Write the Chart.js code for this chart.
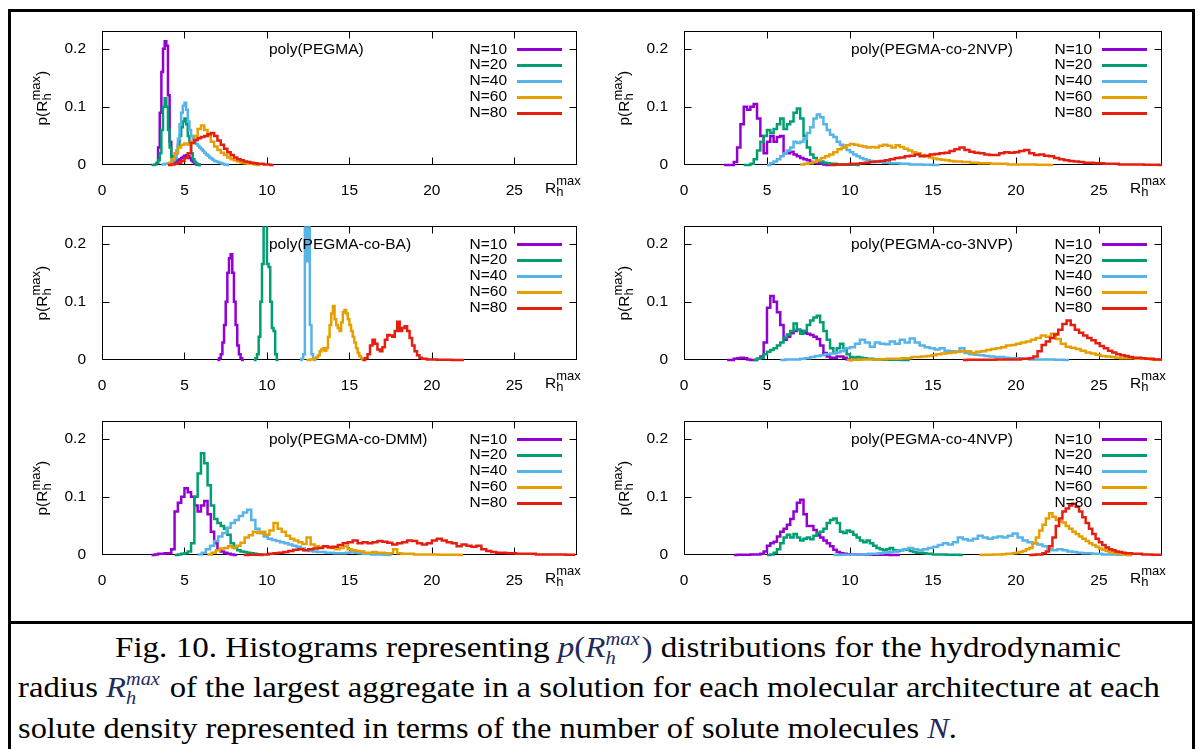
<!DOCTYPE html>
<html>
<head>
<meta charset="utf-8">
<script src="https://cdn.jsdelivr.net/npm/chart.js@4.4.0/dist/chart.umd.min.js"></script>
<style>
  body { margin: 0; background: #fff; }
  #page { position: relative; width: 1198px; height: 749px; overflow: hidden; background: #fff; }
  .frame { position: absolute; left: 8px; top: 9px; width: 1181px; height: 800px; border: 3px solid #000; }
  .sep { position: absolute; left: 8px; top: 621px; width: 1187px; height: 3px; background: #000; }
  canvas.panel { position: absolute; }
  .cap { position: absolute; white-space: nowrap; font-family: "Liberation Serif", "Times New Roman", serif;
         font-size: 29px; line-height: 29px; color: #000; transform-origin: 0 0; }
  .m { color: #1f2a5c; }
  .ss { display: inline-block; position: relative; width: 1.75em; height: 0; font-size: 0.62em; }
  .sp { position: absolute; left: 0; bottom: 0.5em; line-height: 1; }
  .sb { position: absolute; left: 0; top: -0.42em; line-height: 1; }
</style>
</head>
<body>
<div id="page">
  <div class="frame"></div>
  <div class="sep"></div>
  <canvas class="panel" id="p0" width="590" height="195"></canvas>
  <canvas class="panel" id="p1" width="590" height="195"></canvas>
  <canvas class="panel" id="p2" width="590" height="195"></canvas>
  <canvas class="panel" id="p3" width="590" height="195"></canvas>
  <canvas class="panel" id="p4" width="590" height="195"></canvas>
  <canvas class="panel" id="p5" width="590" height="195"></canvas>
  <div class="cap" id="c1" style="left:115px;top:633px">Fig. 10. Histograms representing <span class="m"><i>p</i>(<i>R</i><span class="ss"><i class="sp">max</i><i class="sb">h</i></span>)</span> distributions for the hydrodynamic</div>
  <div class="cap" id="c2" style="left:18px;top:673px">radius <span class="m"><i>R</i><span class="ss"><i class="sp">max</i><i class="sb">h</i></span></span> of the largest aggregate in a solution for each molecular architecture at each</div>
  <div class="cap" id="c3" style="left:18px;top:714px">solute density represented in terms of the number of solute molecules <span class="m"><i>N</i></span>.</div>
</div>
<script>
/* p(Rh max) histograms, six architectures, N = 10..80 */
const X_TICKS = [0, 5, 10, 15, 20, 25];
const Y_TICKS = [0, 0.1, 0.2];
const X_MAX = 28.8, Y_MAX = 0.23;
const N_LABELS = ['N=10', 'N=20', 'N=40', 'N=60', 'N=80'];
const TITLES = ['poly(PEGMA)', 'poly(PEGMA-co-2NVP)', 'poly(PEGMA-co-BA)',
                'poly(PEGMA-co-3NVP)', 'poly(PEGMA-co-DMM)', 'poly(PEGMA-co-4NVP)'];

// each series: first bin left edge, bin width, bin heights
const PEGMA_START = [3.3, 3.0, 3.6, 4.0, 4.0];
const PEGMA_BIN = [0.1, 0.1, 0.1, 0.2, 0.2];
const PEGMA_N10 = [0.003, 0.03, 0.09, 0.16, 0.2, 0.213, 0.205, 0.12, 0.04, 0.015, 0.007, 0.005, 0.006, 0.008, 0.01, 0.012, 0.014, 0.016, 0.017, 0.015, 0.012, 0.008, 0.005, 0.003, 0.001, 0.0005, 0];
const PEGMA_N20 = [0, 0, 0.001, 0.004, 0.008, 0.02, 0.06, 0.1, 0.115, 0.1, 0.06, 0.03, 0.012, 0.008, 0.01, 0.02, 0.035, 0.05, 0.065, 0.075, 0.08, 0.07, 0.05, 0.035, 0.02, 0.01, 0.005, 0.002, 0.001, 0];
const PEGMA_N40 = [0.001, 0.001, 0.002, 0.002, 0.003, 0.004, 0.006, 0.008, 0.012, 0.025, 0.045, 0.07, 0.09, 0.102, 0.107, 0.095, 0.075, 0.06, 0.05, 0.044, 0.04, 0.036, 0.033, 0.03, 0.027, 0.024, 0.021, 0.018, 0.016, 0.013, 0.011, 0.009, 0.007, 0.006, 0.005, 0.004, 0.003, 0.002, 0.001, 0.0005, 0];
const PEGMA_N60 = [0.002, 0.01, 0.02, 0.03, 0.035, 0.037, 0.035, 0.04, 0.05, 0.062, 0.068, 0.06, 0.05, 0.04, 0.032, 0.026, 0.021, 0.017, 0.013, 0.01, 0.008, 0.006, 0.004, 0.003, 0.002, 0.002, 0.001, 0];
const PEGMA_N80 = [0, 0.001, 0.002, 0.004, 0.007, 0.012, 0.02, 0.038, 0.043, 0.046, 0.048, 0.05, 0.053, 0.055, 0.05, 0.042, 0.035, 0.028, 0.022, 0.017, 0.013, 0.01, 0.008, 0.006, 0.005, 0.004, 0.003, 0.002, 0.002, 0.001, 0.001, 0];

const NVP2_START = [2.4, 3.6, 5.0, 7.0, 8.8];
const NVP2_BIN = [0.2, 0.2, 0.2, 0.25, 0.3];
const NVP2_N10 = [0, 0, 0, 0.005, 0.03, 0.07, 0.1, 0.095, 0.1, 0.105, 0.08, 0.05, 0.02, 0.04, 0.05, 0.04, 0.048, 0.05, 0.02, 0.02, 0.023, 0.018, 0.015, 0.012, 0.01, 0.008, 0.005, 0.004, 0.003, 0.002, 0.001, 0];
const NVP2_N20 = [0, 0, 0.002, 0.01, 0.025, 0.04, 0.05, 0.06, 0.055, 0.062, 0.07, 0.08, 0.062, 0.07, 0.075, 0.09, 0.097, 0.08, 0.05, 0.03, 0.018, 0.012, 0.008, 0.006, 0.004, 0.003, 0.002, 0.002, 0.001, 0.001, 0.001, 0.0005, 0.0005, 0.0003, 0];
const NVP2_N40 = [0, 0.003, 0.006, 0.01, 0.015, 0.02, 0.025, 0.03, 0.04, 0.038, 0.04, 0.045, 0.055, 0.065, 0.08, 0.087, 0.082, 0.07, 0.06, 0.052, 0.048, 0.04, 0.035, 0.03, 0.026, 0.022, 0.018, 0.015, 0.012, 0.01, 0.008, 0.007, 0.006, 0.005, 0.005, 0.004, 0.004, 0.003, 0.003, 0.003, 0.002, 0.002, 0.002, 0.001, 0.001, 0.001, 0.001, 0.0005, 0.0005, 0.0003, 0.0002, 0];
const NVP2_N60 = [0.001, 0.002, 0.003, 0.005, 0.008, 0.012, 0.015, 0.018, 0.022, 0.027, 0.03, 0.034, 0.036, 0.035, 0.033, 0.032, 0.03, 0.031, 0.03, 0.033, 0.035, 0.033, 0.03, 0.034, 0.031, 0.028, 0.025, 0.022, 0.02, 0.017, 0.015, 0.013, 0.011, 0.01, 0.009, 0.008, 0.007, 0.006, 0.006, 0.005, 0.005, 0.004, 0.004, 0.003, 0.003, 0.003, 0.002, 0.002, 0.002, 0.002, 0.001, 0.001, 0.001, 0.001, 0.001, 0.001, 0.001, 0.0005, 0.0005, 0.0005, 0];
const NVP2_N80 = [0, 0.001, 0.001, 0.001, 0.002, 0.002, 0.003, 0.004, 0.005, 0.006, 0.007, 0.008, 0.01, 0.012, 0.013, 0.015, 0.016, 0.018, 0.015, 0.016, 0.018, 0.019, 0.02, 0.021, 0.024, 0.027, 0.03, 0.026, 0.023, 0.021, 0.02, 0.018, 0.017, 0.017, 0.02, 0.022, 0.021, 0.022, 0.024, 0.026, 0.02, 0.017, 0.018, 0.016, 0.015, 0.012, 0.01, 0.008, 0.007, 0.006, 0.005, 0.004, 0.004, 0.003, 0.003, 0.002, 0.002, 0.002, 0.001, 0.001, 0.001, 0.001, 0.001, 0.0005, 0.0005, 0.0005, 0];

const BA_START = [7.0, 9.2, 12.0, 12.4, 15.8];
const BA_BIN = [0.1, 0.1, 0.1, 0.1, 0.15];
const BA_N10 = [0, 0.003, 0.01, 0.03, 0.06, 0.1, 0.15, 0.175, 0.182, 0.15, 0.1, 0.06, 0.025, 0.01, 0.003, 0];
const BA_N20 = [0, 0.003, 0.01, 0.04, 0.1, 0.165, 0.24, 0.26, 0.165, 0.16, 0.1, 0.055, 0.05, 0.01, 0];
const BA_N40 = [0, 0.002, 0.01, 0.25, 0.17, 0.25, 0.06, 0.01, 0.002, 0];
const BA_N60 = [0, 0, 0.001, 0.001, 0.002, 0.003, 0.005, 0.008, 0.015, 0.018, 0.02, 0.016, 0.02, 0.04, 0.06, 0.08, 0.093, 0.07, 0.06, 0.055, 0.05, 0.065, 0.082, 0.086, 0.08, 0.07, 0.06, 0.05, 0.04, 0.03, 0.02, 0.012, 0.007, 0.003, 0.001, 0];
const BA_N80 = [0, 0.003, 0.01, 0.025, 0.035, 0.028, 0.018, 0.015, 0.022, 0.035, 0.043, 0.042, 0.04, 0.05, 0.066, 0.05, 0.055, 0.058, 0.05, 0.038, 0.025, 0.015, 0.008, 0.004, 0.002, 0.002, 0.001, 0.001, 0.001, 0.0008, 0.0006, 0.0005, 0.0005, 0.0004, 0.0003, 0.0003, 0.0002, 0.0002, 0.0002, 0.0001, 0];

const NVP3_START = [2.6, 4.2, 5.8, 9.8, 16.8];
const NVP3_BIN = [0.2, 0.2, 0.3, 0.3, 0.25];
const NVP3_N10 = [0, 0, 0.002, 0.003, 0.004, 0.003, 0.001, 0, 0, 0.002, 0.006, 0.03, 0.09, 0.11, 0.1, 0.082, 0.06, 0.035, 0.04, 0.046, 0.05, 0.052, 0.05, 0.047, 0.045, 0.043, 0.04, 0.036, 0.025, 0.012, 0.006, 0.004, 0.004, 0.006, 0.006, 0.004, 0.001, 0];
const NVP3_N20 = [0, 0.002, 0.004, 0.01, 0.014, 0.017, 0.02, 0.025, 0.03, 0.038, 0.044, 0.05, 0.063, 0.052, 0.045, 0.05, 0.06, 0.068, 0.073, 0.076, 0.065, 0.05, 0.035, 0.02, 0.012, 0.02, 0.028, 0.02, 0.01, 0.005, 0.004, 0.005, 0.004, 0.003, 0.002, 0.002, 0.001, 0.001, 0.001, 0.0005, 0.0005, 0.0005, 0.0003, 0.0003, 0.0002, 0.0002, 0];
const NVP3_N40 = [0, 0.001, 0.001, 0.001, 0.002, 0.003, 0.005, 0.007, 0.008, 0.01, 0.011, 0.013, 0.015, 0.02, 0.022, 0.028, 0.035, 0.03, 0.023, 0.03, 0.028, 0.027, 0.032, 0.028, 0.035, 0.03, 0.037, 0.03, 0.025, 0.022, 0.02, 0.018, 0.02, 0.016, 0.015, 0.014, 0.02, 0.012, 0.01, 0.009, 0.008, 0.007, 0.006, 0.005, 0.005, 0.004, 0.003, 0.003, 0.002, 0.002, 0.001, 0.001, 0.001, 0.001, 0.001, 0.0005, 0.0005, 0];
const NVP3_N60 = [0, 0.0005, 0.0005, 0.001, 0.001, 0.001, 0.001, 0.0015, 0.002, 0.002, 0.002, 0.003, 0.003, 0.005, 0.005, 0.006, 0.007, 0.008, 0.01, 0.011, 0.012, 0.013, 0.014, 0.015, 0.015, 0.012, 0.014, 0.015, 0.017, 0.019, 0.02, 0.022, 0.025, 0.026, 0.028, 0.03, 0.032, 0.035, 0.038, 0.042, 0.04, 0.045, 0.036, 0.028, 0.023, 0.021, 0.019, 0.016, 0.013, 0.011, 0.009, 0.007, 0.006, 0.005, 0.004, 0.003, 0.003, 0.003, 0.002, 0.002, 0.002, 0.001, 0.001, 0];
const NVP3_N80 = [0, 0.0003, 0.0003, 0.0005, 0.0005, 0.0005, 0.0005, 0.0005, 0.0007, 0.0007, 0.001, 0.001, 0.001, 0.001, 0.002, 0.002, 0.003, 0.006, 0.015, 0.026, 0.032, 0.038, 0.044, 0.052, 0.062, 0.068, 0.06, 0.052, 0.047, 0.042, 0.038, 0.034, 0.029, 0.024, 0.02, 0.016, 0.013, 0.01, 0.008, 0.007, 0.005, 0.004, 0.004, 0.003, 0.002, 0.002, 0.001, 0.001];

const DMM_START = [3.0, 4.4, 5.8, 6.4, 8.6];
const DMM_BIN = [0.2, 0.2, 0.25, 0.25, 0.3];
const DMM_N10 = [0, 0.001, 0.002, 0.002, 0.003, 0.003, 0.01, 0.075, 0.09, 0.1, 0.115, 0.108, 0.1, 0.085, 0.075, 0.085, 0.093, 0.07, 0.04, 0.02, 0.01, 0.006, 0.004, 0.002, 0.001, 0];
const DMM_N20 = [0, 0.001, 0.002, 0.003, 0.006, 0.02, 0.1, 0.14, 0.175, 0.158, 0.12, 0.085, 0.062, 0.055, 0.05, 0.045, 0.035, 0.02, 0.012, 0.008, 0.006, 0.005, 0.004, 0.003, 0.002, 0.001, 0];
const DMM_N40 = [0.001, 0.004, 0.01, 0.016, 0.024, 0.032, 0.038, 0.047, 0.055, 0.06, 0.067, 0.073, 0.078, 0.06, 0.045, 0.038, 0.032, 0.028, 0.026, 0.024, 0.022, 0.02, 0.018, 0.016, 0.014, 0.011, 0.008, 0.007, 0.006, 0.005, 0.005, 0.004, 0.004, 0.003, 0.003, 0.003, 0.004, 0.005, 0.004, 0.003, 0.002, 0.002, 0.001, 0.001, 0.001, 0.0005, 0];
const DMM_N60 = [0.001, 0.004, 0.008, 0.011, 0.012, 0.015, 0.013, 0.016, 0.021, 0.03, 0.034, 0.04, 0.038, 0.04, 0.035, 0.042, 0.055, 0.045, 0.04, 0.033, 0.028, 0.025, 0.022, 0.019, 0.03, 0.018, 0.015, 0.013, 0.015, 0.014, 0.012, 0.01, 0.012, 0.015, 0.01, 0.008, 0.007, 0.006, 0.004, 0.004, 0.005, 0.004, 0.004, 0.003, 0.003, 0.01, 0.003, 0.002, 0.002, 0.002, 0.001, 0.001, 0.001, 0.001, 0.001, 0.001, 0.0005, 0.0005, 0.0005, 0.0005, 0.0005, 0];
const DMM_N80 = [0, 0.0005, 0.0005, 0.001, 0.001, 0.002, 0.003, 0.004, 0.005, 0.007, 0.009, 0.01, 0.008, 0.01, 0.011, 0.012, 0.015, 0.013, 0.014, 0.017, 0.02, 0.022, 0.025, 0.02, 0.022, 0.02, 0.022, 0.024, 0.023, 0.021, 0.018, 0.02, 0.022, 0.025, 0.024, 0.02, 0.018, 0.02, 0.025, 0.028, 0.025, 0.022, 0.02, 0.015, 0.018, 0.016, 0.014, 0.016, 0.01, 0.007, 0.005, 0.004, 0.004, 0.003, 0.003, 0.002, 0.002, 0.002, 0.002, 0.001, 0.001, 0.001, 0.001, 0.001, 0.001, 0.0005, 0.0005];

const NVP4_START = [3.0, 5.0, 9.0, 17.8, 20.8];
const NVP4_BIN = [0.2, 0.2, 0.3, 0.2, 0.2];
const NVP4_N10 = [0, 0.0005, 0.0005, 0.0005, 0.0005, 0.0008, 0.001, 0.001, 0.002, 0.006, 0.016, 0.02, 0.023, 0.032, 0.04, 0.045, 0.052, 0.062, 0.075, 0.09, 0.095, 0.07, 0.05, 0.05, 0.043, 0.034, 0.03, 0.025, 0.02, 0.015, 0.009, 0.005, 0.003, 0.002, 0.0015, 0.001, 0.001, 0.001, 0.001, 0.001, 0.0008, 0.0008, 0.0006, 0.0005, 0.0005, 0.0004, 0.0003, 0.0002, 0.0002, 0];
const NVP4_N20 = [0, 0.001, 0.004, 0.01, 0.02, 0.03, 0.035, 0.03, 0.036, 0.03, 0.025, 0.028, 0.03, 0.027, 0.033, 0.038, 0.04, 0.045, 0.055, 0.06, 0.063, 0.055, 0.04, 0.038, 0.042, 0.04, 0.035, 0.03, 0.025, 0.022, 0.025, 0.02, 0.016, 0.012, 0.01, 0.008, 0.01, 0.012, 0.008, 0.007, 0.008, 0.01, 0.009, 0.007, 0.005, 0.004, 0.004, 0.003, 0.002, 0.002, 0.001, 0.001, 0.001, 0.001, 0.0005, 0.0005, 0.0005, 0.0003, 0];
const NVP4_N40 = [0, 0.0003, 0.0005, 0.0005, 0.0008, 0.001, 0.0015, 0.002, 0.002, 0.003, 0.004, 0.005, 0.006, 0.008, 0.01, 0.012, 0.01, 0.008, 0.01, 0.012, 0.014, 0.017, 0.02, 0.018, 0.022, 0.03, 0.027, 0.025, 0.028, 0.033, 0.03, 0.028, 0.03, 0.032, 0.03, 0.033, 0.037, 0.03, 0.025, 0.022, 0.02, 0.018, 0.015, 0.01, 0.008, 0.01, 0.008, 0.006, 0.005, 0.004, 0.003, 0.003, 0.002, 0.002, 0.001, 0.001, 0.001, 0.0005, 0.0005, 0];
const NVP4_N60 = [0, 0.0003, 0.0005, 0.0005, 0.0008, 0.001, 0.001, 0.0015, 0.002, 0.002, 0.003, 0.004, 0.005, 0.007, 0.01, 0.012, 0.02, 0.03, 0.042, 0.052, 0.063, 0.072, 0.066, 0.06, 0.058, 0.056, 0.05, 0.045, 0.04, 0.036, 0.032, 0.028, 0.024, 0.02, 0.017, 0.014, 0.011, 0.009, 0.007, 0.005, 0.004, 0.003, 0.002, 0.001, 0.0005, 0];
const NVP4_N80 = [0, 0.0005, 0.001, 0.001, 0.003, 0.006, 0.015, 0.03, 0.05, 0.063, 0.075, 0.08, 0.085, 0.088, 0.083, 0.075, 0.065, 0.055, 0.045, 0.036, 0.028, 0.022, 0.017, 0.013, 0.01, 0.008, 0.006, 0.005, 0.004, 0.003, 0.003, 0.002, 0.002, 0.002, 0.001, 0.001, 0.001, 0.0005, 0.0005, 0.0005];

// gnuplot default line colours
const COLORS = ['#9400d3', '#009e73', '#56b4e9', '#e69f00', '#e51e10'];
const FONT = '"Liberation Sans", Arial, sans-serif';

const PANELS = [
  { title: TITLES[0], start: PEGMA_START, bin: PEGMA_BIN, series: [PEGMA_N10, PEGMA_N20, PEGMA_N40, PEGMA_N60, PEGMA_N80] },
  { title: TITLES[1], start: NVP2_START, bin: NVP2_BIN, series: [NVP2_N10, NVP2_N20, NVP2_N40, NVP2_N60, NVP2_N80] },
  { title: TITLES[2], start: BA_START, bin: BA_BIN, series: [BA_N10, BA_N20, BA_N40, BA_N60, BA_N80] },
  { title: TITLES[3], start: NVP3_START, bin: NVP3_BIN, series: [NVP3_N10, NVP3_N20, NVP3_N40, NVP3_N60, NVP3_N80] },
  { title: TITLES[4], start: DMM_START, bin: DMM_BIN, series: [DMM_N10, DMM_N20, DMM_N40, DMM_N60, DMM_N80] },
  { title: TITLES[5], start: NVP4_START, bin: NVP4_BIN, series: [NVP4_N10, NVP4_N20, NVP4_N40, NVP4_N60, NVP4_N80] },
];

// page layout
const CANVAS_LEFT = [12, 598];
const CANVAS_TOP = 14, ROW_STEP = 195;
const AXIS_W = [90, 86];
const PAD_RIGHT = [25, 26];

function histPoints(x0, bw, vals) {
  const pts = vals.map((v, i) => ({ x: +(x0 + i * bw).toFixed(3), y: v }));
  pts.push({ x: +(x0 + vals.length * bw).toFixed(3), y: vals[vals.length - 1] });
  return pts;
}

// border, inward mirrored ticks, title, key, axis labels (gnuplot look)
const decor = {
  id: 'decor',
  beforeDatasetsDraw(chart) {
    const { ctx, chartArea: a, scales: { x, y } } = chart;
    const L = Math.round(a.left) + 0.5, R = Math.round(a.right) - 0.5;
    const T = Math.round(a.top) + 0.5, B = Math.round(a.bottom) - 0.5;
    ctx.save();
    ctx.strokeStyle = '#000';
    ctx.lineWidth = 1;
    ctx.strokeRect(L, T, R - L, B - T);
    ctx.beginPath();
    Y_TICKS.filter(v => v > 0).forEach(v => {
      const py = Math.round(y.getPixelForValue(v)) + 0.5;
      ctx.moveTo(L, py); ctx.lineTo(L + 7, py);
      ctx.moveTo(R - 7, py); ctx.lineTo(R, py);
    });
    X_TICKS.filter(v => v > 0).forEach(v => {
      const px = Math.round(x.getPixelForValue(v)) + 0.5;
      ctx.moveTo(px, B); ctx.lineTo(px, B - 7);
      ctx.moveTo(px, T); ctx.lineTo(px, T + 7);
    });
    ctx.stroke();
    ctx.restore();
  },
  afterDraw(chart, args, opts) {
    const { ctx, chartArea: a } = chart;
    ctx.save();
    ctx.fillStyle = '#000';
    ctx.textBaseline = 'middle';

    // title
    ctx.font = '15.5px ' + FONT;
    ctx.textAlign = 'left';
    ctx.fillText(opts.title, a.left + 167, a.top + 18);

    // key
    N_LABELS.forEach((lab, i) => {
      const yy = a.top + 18 + i * 15.8;
      ctx.textAlign = 'right';
      ctx.fillStyle = '#000';
      ctx.fillText(lab, a.right - 70, yy);
      ctx.strokeStyle = COLORS[i];
      ctx.lineWidth = 3;
      ctx.beginPath();
      ctx.moveTo(a.right - 60, Math.round(yy) + 0.5);
      ctx.lineTo(a.right - 15, Math.round(yy) + 0.5);
      ctx.stroke();
    });

    // x label  R_h^max
    ctx.textBaseline = 'alphabetic';
    ctx.textAlign = 'left';
    ctx.fillStyle = '#000';
    const rx = a.right - 32;
    ctx.font = '15.5px ' + FONT;
    ctx.fillText('R', rx, a.bottom + 28);
    const wr = ctx.measureText('R').width;
    ctx.font = '13px ' + FONT;
    ctx.fillText('max', rx + wr, a.bottom + 20);
    ctx.fillText('h', rx + wr, a.bottom + 31);

    // y label  p(R_h^max), rotated
    ctx.translate(a.left - 60, (a.top + a.bottom) / 2);
    ctx.rotate(-Math.PI / 2);
    ctx.font = '15.5px ' + FONT;
    const w1 = ctx.measureText('p(R').width;
    const w3 = ctx.measureText(')').width;
    ctx.font = '13px ' + FONT;
    const w2 = ctx.measureText('max').width;
    let u = -(w1 + w2 + w3) / 2;
    ctx.font = '15.5px ' + FONT;
    ctx.fillText('p(R', u, 5);
    u += w1;
    ctx.font = '13px ' + FONT;
    ctx.fillText('max', u, -2);
    ctx.fillText('h', u, 9);
    u += w2;
    ctx.font = '15.5px ' + FONT;
    ctx.fillText(')', u, 5);
    ctx.restore();
  }
};

Chart.defaults.font.family = FONT;

PANELS.forEach((p, k) => {
  const col = k % 2, row = Math.floor(k / 2);
  const cv = document.getElementById('p' + k);
  cv.style.left = CANVAS_LEFT[col] + 'px';
  cv.style.top = (CANVAS_TOP + row * ROW_STEP) + 'px';

  const datasets = p.series.map((vals, i) => ({
    label: N_LABELS[i],
    data: histPoints(p.start[i], p.bin[i], vals),
    borderColor: COLORS[i],
    borderWidth: 2.5,
    pointRadius: 0,
    stepped: 'before',
    fill: false,
    order: 4 - i,
    clip: { left: 2, top: 0, right: 0, bottom: 3 },
  }));

  new Chart(cv, {
    type: 'line',
    data: { datasets },
    plugins: [decor],
    options: {
      responsive: false,
      animation: false,
      devicePixelRatio: 1,
      events: [],
      layout: { padding: { left: 0, right: PAD_RIGHT[col], top: 17, bottom: 4 } },
      plugins: { legend: { display: false }, tooltip: { enabled: false }, decor: { title: p.title } },
      scales: {
        x: {
          type: 'linear', min: 0, max: X_MAX,
          grid: { display: false }, border: { display: false },
          afterBuildTicks: s => { s.ticks = X_TICKS.map(v => ({ value: v })); },
          afterFit: s => { s.height = 40; },
          ticks: { font: { size: 15.5 }, color: '#000', padding: 8, maxRotation: 0, autoSkip: false },
        },
        y: {
          type: 'linear', min: 0, max: Y_MAX,
          grid: { display: false }, border: { display: false },
          afterBuildTicks: s => { s.ticks = Y_TICKS.map(v => ({ value: v })); },
          afterFit: s => { s.width = AXIS_W[col]; },
          ticks: { font: { size: 15.5 }, color: '#000', padding: 8, callback: v => String(v) },
        },
      },
    },
  });
});

// caption lines stretched to the widths in the figure
const CAP_WIDTH = { c1: 1006, c2: 1142, c3: 939 };
Object.keys(CAP_WIDTH).forEach(id => {
  const el = document.getElementById(id);
  const w = el.getBoundingClientRect().width;
  el.style.transform = 'scaleX(' + (CAP_WIDTH[id] / w).toFixed(4) + ')';
});
</script>
</body>
</html>
